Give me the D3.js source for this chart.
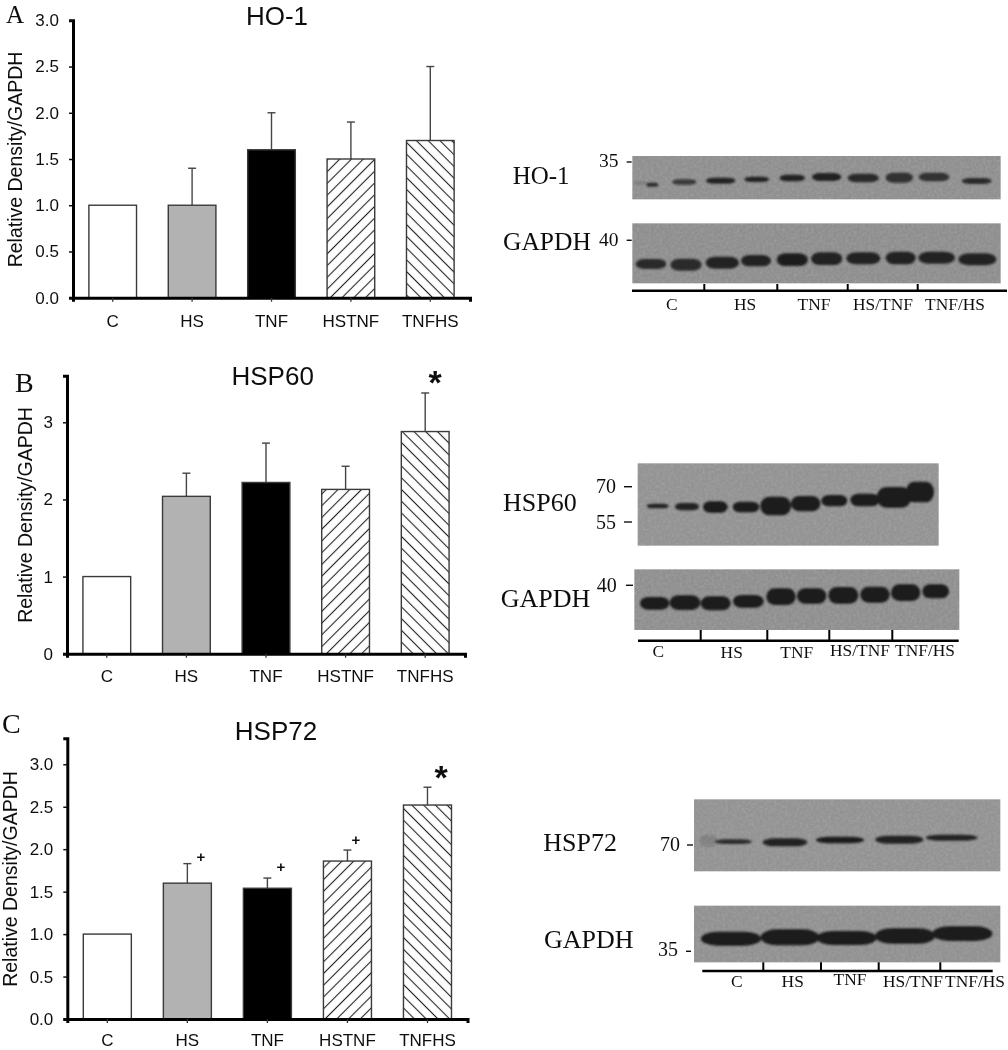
<!DOCTYPE html>
<html><head><meta charset="utf-8">
<script src="https://cdnjs.cloudflare.com/ajax/libs/d3/7.8.5/d3.min.js"></script>
<style>
html,body{margin:0;padding:0;background:#fff}
svg{display:block}
text{fill:#111}
.sans{font-family:"Liberation Sans",Arial,sans-serif}
.serif{font-family:"Liberation Serif","Times New Roman",serif}
</style></head><body>
<svg id="c" width="1008" height="1050"></svg>
<script>
// ---------- chart values ----------
const categories = ["C","HS","TNF","HSTNF","TNFHS"];
const ho1Values   = [1, 1, 1.6, 1.5, 1.7];
const ho1Tops     = [null, 1.4, 2.0, 1.9, 2.5];
const hsp60Values = [1, 2.04, 2.22, 2.13, 2.88];
const hsp60Tops   = [null, 2.34, 2.73, 2.43, 3.38];
const hsp72Values = [1, 1.6, 1.54, 1.86, 2.52];
const hsp72Tops   = [null, 1.83, 1.66, 1.99, 2.73];
const ho1Ticks   = [0,0.5,1,1.5,2,2.5,3];
const hsp60Ticks = [0,1,2,3];
const hsp72Ticks = [0,0.5,1,1.5,2,2.5,3];
const laneLabels = ["C","HS","TNF","HS/TNF","TNF/HS"];
// western-blot bands: [lane, migration, length, thickness, darkness], in each gel's own reading frame
const bandsHO1 = [[450,129,40,4,.35],[487,134,36,12,.85],[583,126,72,16,.75],[692,122,88,18,.95],[800,118,74,16,.95],[907,114,76,20,.95],[1010,111,88,24,.95],[1120,114,94,26,.85],[1228,113,82,30,.8],[1332,111,92,26,.8],[1460,123,90,18,.85]];
const bandsGAPDH1 = [[483,372,92,30,.85],[588,374,94,36,.85],[697,368,100,36,.95],[798,362,90,34,.95],[907,359,94,38,.98],[1010,356,94,38,.95],[1120,355,102,36,.95],[1232,354,90,38,.9],[1340,353,110,36,.9],[1462,358,114,36,.9]];
const bandsHSP60 = [[503,168,66,14,.9],[591,170,72,22,.95],[676,171,74,34,1],[768,171,80,32,1],[857,168,92,56,1],[947,161,88,46,1],[1033,152,78,34,1],[1125,150,88,38,1],[1212,142,104,62,1],[1290,126,84,62,1]];
const bandsGAPDH2 = [[494,460,88,38,1],[585,458,92,44,1],[677,460,90,42,1],[775,454,92,38,1],[873,440,88,50,1],[965,438,88,46,1],[1060,436,90,50,1],[1155,434,88,48,1],[1247,428,88,50,1],[1337,424,80,42,1]];
const bandsHSP72 = [[535,152,50,34,.18],[610,155,110,14,.85],[765,157,134,24,.9],[930,150,144,20,1],[1108,149,144,24,.9],[1265,143,154,18,.95]];
const bandsGAPDH3 = [[603,446,180,42,1],[780,442,176,48,1],[950,444,180,42,1],[1125,438,180,46,1],[1297,431,180,44,1]];

// ---------- layout ----------
const svg = d3.select("#c");
const defs = svg.append("defs");
function hatch(id, dir){
  const s = 8.3;
  const p = defs.append("pattern").attr("id",id).attr("patternUnits","userSpaceOnUse")
    .attr("width",s).attr("height",s).attr("patternTransform",`rotate(${dir*45})`);
  p.append("rect").attr("width",s).attr("height",s).attr("fill","#fff");
  p.append("line").attr("x1",0).attr("x2",s).attr("y1",s/2).attr("y2",s/2).attr("stroke","#222").attr("stroke-width",1.1);
}
hatch("fwd",-1); hatch("bck",1);
const soft = defs.append("filter").attr("id","soft").attr("x","-5%").attr("y","-5%").attr("width","110%").attr("height","110%");
soft.append("feGaussianBlur").attr("stdDeviation",0.35);
const bandBlur = defs.append("filter").attr("id","bandBlur").attr("x","-30%").attr("y","-60%").attr("width","160%").attr("height","220%");
bandBlur.append("feGaussianBlur").attr("stdDeviation",1.0);
const grain = defs.append("filter").attr("id","grain").attr("x",0).attr("y",0).attr("width","100%").attr("height","100%");
grain.append("feTurbulence").attr("type","fractalNoise").attr("baseFrequency",0.35).attr("numOctaves",2).attr("seed",4);
grain.append("feColorMatrix").attr("values","0 0 0 0 0.5  0 0 0 0 0.5  0 0 0 0 0.5  0.5 0 0 0 -0.18");
grain.append("feComposite").attr("in2","SourceGraphic").attr("operator","atop");

const root = svg.append("g").attr("filter","url(#soft)");
const fills = ["#fff","#b2b2b2","#000","url(#fwd)","url(#bck)"];

const panels = [
 {letter:"A",lx:6,ly:22.5,lf:25,title:"HO-1",tx:277,ty:25,values:ho1Values,tops:ho1Tops,ticks:ho1Ticks,fmt:".1f",max:3,
  left:73,right:470,y0:297.7,yTop:20.3,labelX:22,labelY:159.5,fs:17.3},
 {letter:"B",lx:15,ly:392,lf:28,title:"HSP60",tx:272.7,ty:385,values:hsp60Values,tops:hsp60Tops,ticks:hsp60Ticks,fmt:"d",max:3.604,
  left:67,right:465,y0:653.7,yTop:375.7,labelX:32,labelY:515,fs:16},
 {letter:"C",lx:2,ly:733,lf:28,title:"HSP72",tx:276,ty:740,values:hsp72Values,tops:hsp72Tops,ticks:hsp72Ticks,fmt:".1f",max:3.306,
  left:67.3,right:467.5,y0:1019,yTop:738.3,labelX:17,labelY:879,fs:15}
];

panels.forEach(p=>{
  const g = root.append("g");
  const x = d3.scaleBand().domain(categories).range([p.left,p.right]).paddingInner(0.4).paddingOuter(0.2);
  const y = d3.scaleLinear().domain([0,p.max]).range([p.y0,p.yTop]);
  const items = categories.map((c,i)=>({c,v:p.values[i],t:p.tops[i],f:fills[i]}));
  // error bars
  const eb = g.selectAll(".eb").data(items.filter(d=>d.t!=null)).join("g").attr("stroke","#444").attr("stroke-width",1.4);
  eb.append("line").attr("x1",d=>x(d.c)+x.bandwidth()/2).attr("x2",d=>x(d.c)+x.bandwidth()/2).attr("y1",d=>y(d.v)).attr("y2",d=>y(d.t));
  eb.append("line").attr("x1",d=>x(d.c)+x.bandwidth()/2-4).attr("x2",d=>x(d.c)+x.bandwidth()/2+4).attr("y1",d=>y(d.t)).attr("y2",d=>y(d.t));
  // bars
  g.selectAll(".bar").data(items).join("rect").attr("x",d=>x(d.c)).attr("width",x.bandwidth())
    .attr("y",d=>y(d.v)).attr("height",d=>y(0)-y(d.v)).attr("fill",d=>d.f).attr("stroke","#3a3a3a").attr("stroke-width",1.4);
  // axes
  const ax = g.append("g").attr("class","sans").attr("transform",`translate(${p.left},0)`)
    .call(d3.axisLeft(y).tickValues(p.ticks).tickFormat(d3.format(p.fmt)).tickSizeOuter(0).tickSize(4).tickPadding(10));
  ax.select(".domain").attr("stroke","#000").attr("stroke-width",3);
  ax.selectAll(".tick line").attr("stroke","#111").attr("stroke-width",1.5);
  ax.selectAll("text").attr("font-size",17).attr("fill","#111");
  const bx = g.append("g").attr("class","sans").attr("transform",`translate(0,${p.y0})`)
    .call(d3.axisBottom(x).tickSizeOuter(0).tickSize(4).tickPadding(p.fs-4));
  bx.select(".domain").attr("stroke","#000").attr("stroke-width",3);
  bx.selectAll(".tick line").attr("stroke","#333").attr("stroke-width",1.3);
  bx.selectAll("text").attr("font-size",17).attr("fill","#111");
  // text
  g.append("text").attr("class","serif").attr("x",p.lx).attr("y",p.ly).attr("font-size",p.lf).text(p.letter);
  g.append("text").attr("class","sans").attr("x",p.tx).attr("y",p.ty).attr("text-anchor","middle").attr("font-size",26).text(p.title);
  g.append("text").attr("class","sans").attr("text-anchor","middle").attr("font-size",19.5)
    .attr("transform",`translate(${p.labelX},${p.labelY}) rotate(-90)`).text("Relative Density/GAPDH");
});

// significance marks
const marks = [
 {s:"*",x:435,y:394,size:34,w:"bold"},{s:"*",x:441,y:789,size:34,w:"bold"},
 {s:"+",x:201,y:862,size:15,w:"bold"},{s:"+",x:281,y:872,size:15,w:"bold"},{s:"+",x:356,y:845,size:15,w:"bold"}
];
root.selectAll(".mark").data(marks).join("text").attr("class","sans").attr("x",d=>d.x).attr("y",d=>d.y)
  .attr("text-anchor","middle").attr("font-size",d=>d.size).attr("font-weight",d=>d.w).text(d=>d.s);

// ---------- blots ----------
const gels = [
 {ox:490,oy:140,x0:427,x1:1532,y0:48,y1:178,bands:bandsHO1,fill:"#8f8f8f"},
 {ox:490,oy:140,x0:427,x1:1532,y0:250,y1:430,bands:bandsGAPDH1,fill:"#8e8e8e"},
 {ox:490,oy:450,x0:443,x1:1346,y0:40,y1:287,bands:bandsHSP60,fill:"#939393"},
 {ox:490,oy:450,x0:433,x1:1408,y0:358,y1:540,bands:bandsGAPDH2,fill:"#8f8f8f"},
 {ox:530,oy:790,x0:492,x1:1411,y0:28,y1:244,bands:bandsHSP72,fill:"#939393"},
 {ox:530,oy:790,x0:492,x1:1411,y0:347,y1:517,bands:bandsGAPDH3,fill:"#919191"}
];
gels.forEach(gel=>{
  const gx = d3.scaleLinear().domain([0,300]).range([gel.ox,gel.ox+100]);
  const gy = d3.scaleLinear().domain([0,300]).range([gel.oy,gel.oy+100]);
  const k = 1/3;
  const g = root.append("g");
  g.append("rect").attr("x",gx(gel.x0)).attr("y",gy(gel.y0)).attr("width",gx(gel.x1)-gx(gel.x0)).attr("height",gy(gel.y1)-gy(gel.y0))
    .attr("fill",gel.fill).attr("filter","url(#grain)");
  g.append("g").attr("filter","url(#bandBlur)").selectAll("rect").data(gel.bands).join("rect")
    .attr("x",d=>gx(d[0]-d[2]/2)).attr("y",d=>gy(d[1]-d[3]/2)).attr("width",d=>d[2]*k).attr("height",d=>d[3]*k)
    .attr("rx",d=>d[2]*k*0.28).attr("ry",d=>d[3]*k/2).attr("fill","#1a1a1a").attr("opacity",d=>d[4]);
});

const rules = [
 {x1:632,x2:1007,y:290.7,ticks:[704.3,777.3,847.7,917.7],top:284},
 {x1:638,x2:958.7,y:640.7,ticks:[700.7,767.3,829.3,892.3],top:630},
 {x1:702.3,x2:992.7,y:971,ticks:[763.3,821,878.7,940.3],top:962.3}
];
rules.forEach(r=>{
  const g = root.append("g").attr("stroke","#000");
  g.append("line").attr("x1",r.x1).attr("x2",r.x2).attr("y1",r.y).attr("y2",r.y).attr("stroke-width",2.4);
  g.selectAll("line.t").data(r.ticks).join("line").attr("class","t").attr("x1",d=>d).attr("x2",d=>d).attr("y1",r.top).attr("y2",r.y).attr("stroke-width",2);
});

const blotText = [
 {s:"HO-1",x:512.7,y:184,f:25},{s:"GAPDH",x:503,y:250,f:25.5},{s:"35",x:599,y:167,f:19.5},{s:"40",x:599,y:246,f:19.5},
 {s:"HSP60",x:503,y:510.7,f:26},{s:"GAPDH",x:500.7,y:607,f:26},{s:"70",x:596,y:493,f:20},{s:"55",x:596,y:528.7,f:20},{s:"40",x:596.7,y:591.7,f:20},
 {s:"HSP72",x:543.3,y:850.7,f:26},{s:"GAPDH",x:544,y:948,f:26},{s:"70",x:660,y:850.7,f:20},{s:"35",x:658,y:956,f:20}
];
root.selectAll(".bt").data(blotText).join("text").attr("class","serif").attr("x",d=>d.x).attr("y",d=>d.y).attr("font-size",d=>d.f).text(d=>d.s);

const laneSets = [
 {xs:[671.7,745,814,883,955],ys:[310,310,310,310,310]},
 {xs:[658.3,731.7,796.7,860,925],ys:[657,657.5,658,656,655.5]},
 {xs:[736.7,792.7,850,913,975],ys:[987,987,985,987,987]}
];
laneSets.forEach(s=>{
  root.append("g").selectAll("text").data(laneLabels).join("text").attr("class","serif").attr("text-anchor","middle")
   .attr("font-size",17.4).attr("x",(d,i)=>s.xs[i]).attr("y",(d,i)=>s.ys[i]).text(d=>d);
});

const molTicks = [[626.7,631.7,162],[626.7,631.7,240.3],[624,632,486.7],[624,632,522],[626,633,585.3],[687,693,845],[686,691,951.3]];
root.append("g").selectAll("line").data(molTicks).join("line").attr("x1",d=>d[0]).attr("x2",d=>d[1]).attr("y1",d=>d[2]).attr("y2",d=>d[2]).attr("stroke","#111").attr("stroke-width",1.4);
</script></body></html>
